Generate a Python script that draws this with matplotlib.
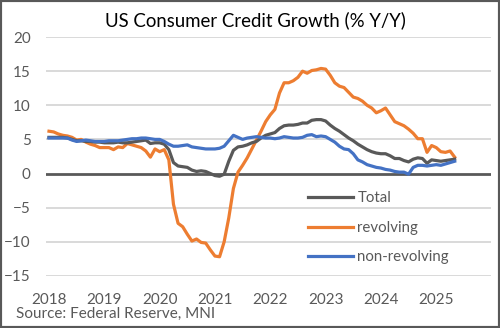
import numpy as np
import matplotlib
matplotlib.use("Agg")
import matplotlib.pyplot as plt
from matplotlib.patches import Rectangle

plt.rcParams["font.family"] = ["Lato", "DejaVu Sans"]

# monthly, Jan 2018 .. May 2025
start_year = 2018
total = [5.3, 5.3, 5.3, 5.3, 5.2, 5.0, 4.8, 4.8, 4.7, 4.7, 4.6, 4.6,
         4.5, 4.5, 4.5, 4.6, 4.5, 4.5, 4.6, 4.7, 4.8, 4.9, 4.4, 4.5,
         4.5, 4.3, 3.5, 1.6, 1.1, 1.0, 0.9, 0.5, 0.3, 0.4, 0.3, 0.0,
         -0.3, -0.4, -0.1, 1.8, 3.4, 3.9, 4.0, 4.2, 4.5, 4.7, 5.2, 5.6,
         5.8, 6.0, 6.6, 7.0, 7.1, 7.1, 7.2, 7.4, 7.4, 7.8, 7.9, 7.9,
         7.7, 7.1, 6.6, 6.2, 5.7, 5.2, 4.8, 4.3, 3.9, 3.5, 3.2, 3.0,
         2.9, 2.9, 2.6, 2.2, 2.2, 1.9, 1.7, 2.1, 2.3, 2.2, 1.5, 2.0,
         1.9, 1.8, 1.9, 2.0, 2.1]
revolving = [6.2, 6.1, 5.8, 5.6, 5.5, 5.3, 4.9, 5.0, 4.6, 4.3, 4.1, 3.8,
             3.8, 3.8, 3.5, 3.9, 3.8, 4.4, 4.2, 4.0, 3.8, 3.3, 2.4, 3.6,
             3.2, 3.5, 2.0, -4.5, -7.3, -7.8, -8.9, -9.9, -9.6, -10.1, -10.2, -11.2,
             -12.1, -12.2, -10.0, -6.5, -2.2, 0.2, 1.2, 2.3, 3.6, 4.9, 6.2, 7.6,
             8.6, 9.4, 11.8, 13.3, 13.3, 13.6, 14.1, 15.0, 14.7, 15.1, 15.2, 15.4,
             15.3, 14.4, 13.3, 12.8, 12.6, 11.9, 11.2, 11.0, 10.6, 10.0, 9.6, 8.9,
             9.2, 9.6, 8.6, 7.6, 7.3, 7.0, 6.5, 5.9, 5.1, 5.1, 3.1, 4.1,
             3.8, 3.2, 3.1, 3.3, 2.4]
non_revolving = [5.2, 5.2, 5.2, 5.2, 5.2, 4.9, 4.7, 4.8, 4.9, 4.8, 4.7, 4.7,
                 4.7, 4.8, 4.8, 4.8, 4.9, 5.0, 5.1, 5.1, 5.2, 5.2, 5.1, 5.0,
                 5.0, 4.7, 4.3, 4.0, 4.0, 4.1, 4.2, 3.9, 3.8, 3.7, 3.6, 3.6,
                 3.6, 3.7, 4.0, 4.8, 5.6, 5.3, 5.0, 5.2, 5.3, 5.4, 5.3, 5.2,
                 5.2, 5.1, 5.2, 5.4, 5.3, 5.2, 5.2, 5.3, 5.6, 5.7, 5.4, 5.5,
                 5.4, 5.0, 4.6, 4.0, 3.6, 3.5, 2.9, 2.0, 1.7, 1.3, 1.1, 0.9,
                 0.8, 0.6, 0.5, 0.3, 0.2, 0.2, -0.1, 0.9, 1.2, 1.2, 1.1, 1.2,
                 1.3, 1.2, 1.4, 1.6, 1.8]
years = list(range(2018, 2026))
yticks = [-15, -10, -5, 0, 5, 10, 15, 20]

x = start_year + np.arange(len(total)) / 12

fig = plt.figure(figsize=(5, 3.28), dpi=100)
ax = fig.add_axes([0.092, 0.159, 0.890, 0.728])

for yv in yticks:
    if yv != 0:
        ax.axhline(yv, color="#d9d9d9", lw=1.4, zorder=0)
ax.axhline(0, color="#595959", lw=2.0, zorder=1)

ax.plot(x, total, color="#595959", lw=2.3, label="Total", zorder=3)
ax.plot(x, revolving, color="#ed7d31", lw=2.3, label="revolving", zorder=2)
ax.plot(x, non_revolving, color="#4472c4", lw=2.3, label="non-revolving", zorder=4)

ax.set_xlim(2017.946, 2025.99)
ax.set_ylim(-15, 20)
ax.set_yticks(yticks)
ax.set_xticks(years)
ax.set_xticklabels([str(y) for y in years])
ax.tick_params(length=0, labelsize=11, colors="#595959")
ax.tick_params(axis="y", pad=11)
ax.tick_params(axis="x", pad=12)
for s in ax.spines.values():
    s.set_visible(False)

fig.text(0.51, 0.938, "US Consumer Credit Growth (% Y/Y)", ha="center", va="center",
         fontsize=13.4, color="black")
fig.text(0.032, 0.043, "Source: Federal Reserve, MNI", ha="left", va="center",
         fontsize=11, color="#595959")

leg = ax.legend(loc="upper left", bbox_to_anchor=(0.558, 0.41), frameon=False,
                fontsize=10.8, handlelength=3.0, handletextpad=0.3, labelspacing=1.03)
for t in leg.get_texts():
    t.set_color("#595959")

fig.patches.append(Rectangle((0, 0), 1, 1, transform=fig.transFigure, fill=False,
                             edgecolor="#595959", lw=3))

fig.savefig("out.png", dpi=100)
